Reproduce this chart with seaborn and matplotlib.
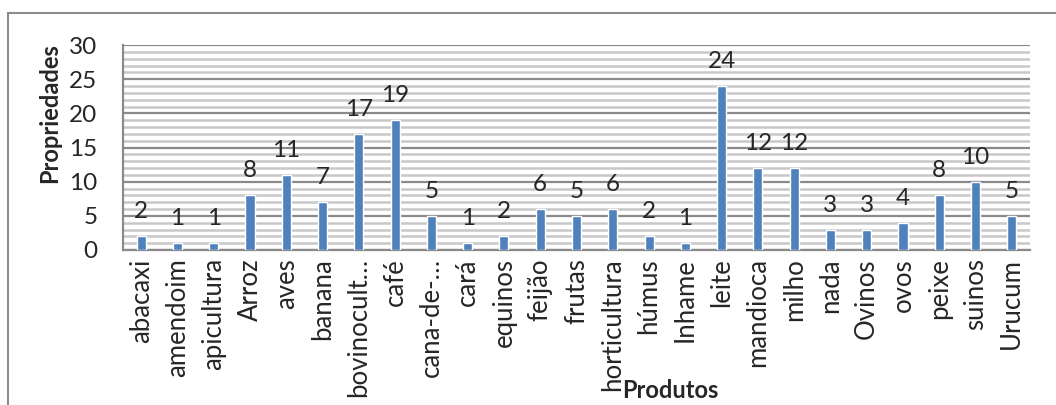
import pandas as pd
import numpy as np
import matplotlib.pyplot as plt
import matplotlib.patches as patches
import seaborn as sns

sns.set_style("white")
plt.rcParams['font.family'] = ['Lato', 'DejaVu Sans']

produtos = ['abacaxi', 'amendoim', 'apicultura', 'Arroz', 'aves', 'banana',
            'bovinocult…', 'café', 'cana-de-…', 'cará', 'equinos', 'feijão',
            'frutas', 'horticultura', 'húmus', 'Inhame', 'leite', 'mandioca',
            'milho', 'nada', 'Ovinos', 'ovos', 'peixe', 'suinos', 'Urucum']
propriedades = [2, 1, 1, 8, 11, 7, 17, 19, 5, 1, 2, 6, 5, 6, 2, 1, 24, 12,
                12, 3, 3, 4, 8, 10, 5]

df = pd.DataFrame({'Produtos': produtos, 'Propriedades': propriedades})

fig = plt.figure(figsize=(10.56, 4.05), dpi=100)
ax = fig.add_axes([123/1056, 1 - 250/405, 907/1056, 205/405])

# outer chart-area border (Excel style)
fig.patches.append(patches.Rectangle((8/1056, -0.1), 1.2, 1 - 13/405 + 0.1,
                                     transform=fig.transFigure, fill=False,
                                     edgecolor='#8c8c8c', lw=1.5, zorder=0))

sns.barplot(data=df, x='Produtos', y='Propriedades', color='#4F81BD',
            width=0.25, saturation=1, ax=ax, zorder=3)

ax.set_ylim(0, 30)
ax.set_xlim(-0.5, len(produtos) - 0.5)
ax.set_yticks(range(0, 31, 5))
ax.set_yticks(range(0, 31, 1), minor=True)
ax.yaxis.grid(True, which='minor', color='#c8c8c8', lw=1.8, zorder=0)
ax.yaxis.grid(True, which='major', color='#8a8a8a', lw=1.6, zorder=1)
ax.set_axisbelow(True)

for side in ['top', 'right']:
    ax.spines[side].set_visible(False)
for side in ['left', 'bottom']:
    ax.spines[side].set_color('#8a8a8a')
    ax.spines[side].set_linewidth(1.6)

ax.tick_params(axis='y', which='major', length=7.5, width=1.6, color='#8a8a8a',
               labelsize=17.5, pad=11)
ax.tick_params(axis='y', which='minor', length=0)
ax.tick_params(axis='x', length=0, labelsize=18.5, rotation=90, pad=6)
ax.set_xticks(range(len(produtos)))
ax.set_xticklabels(produtos, va='top', ha='center')

for i, v in enumerate(propriedades):
    ax.annotate(str(v), (i, v), xytext=(0, 10), textcoords='offset points',
                ha='center', va='bottom', fontsize=17.5)

ax.set_ylabel('')
ax.set_xlabel('')
fig.text(50/1056, 1 - 113/405, 'Propriedades', fontsize=17, fontweight='bold',
         rotation=90, ha='center', va='center')
fig.text(670/1056, 1 - 390/405, 'Produtos', fontsize=17, fontweight='bold',
         ha='center', va='center')

fig.savefig('out.png', dpi=100)
